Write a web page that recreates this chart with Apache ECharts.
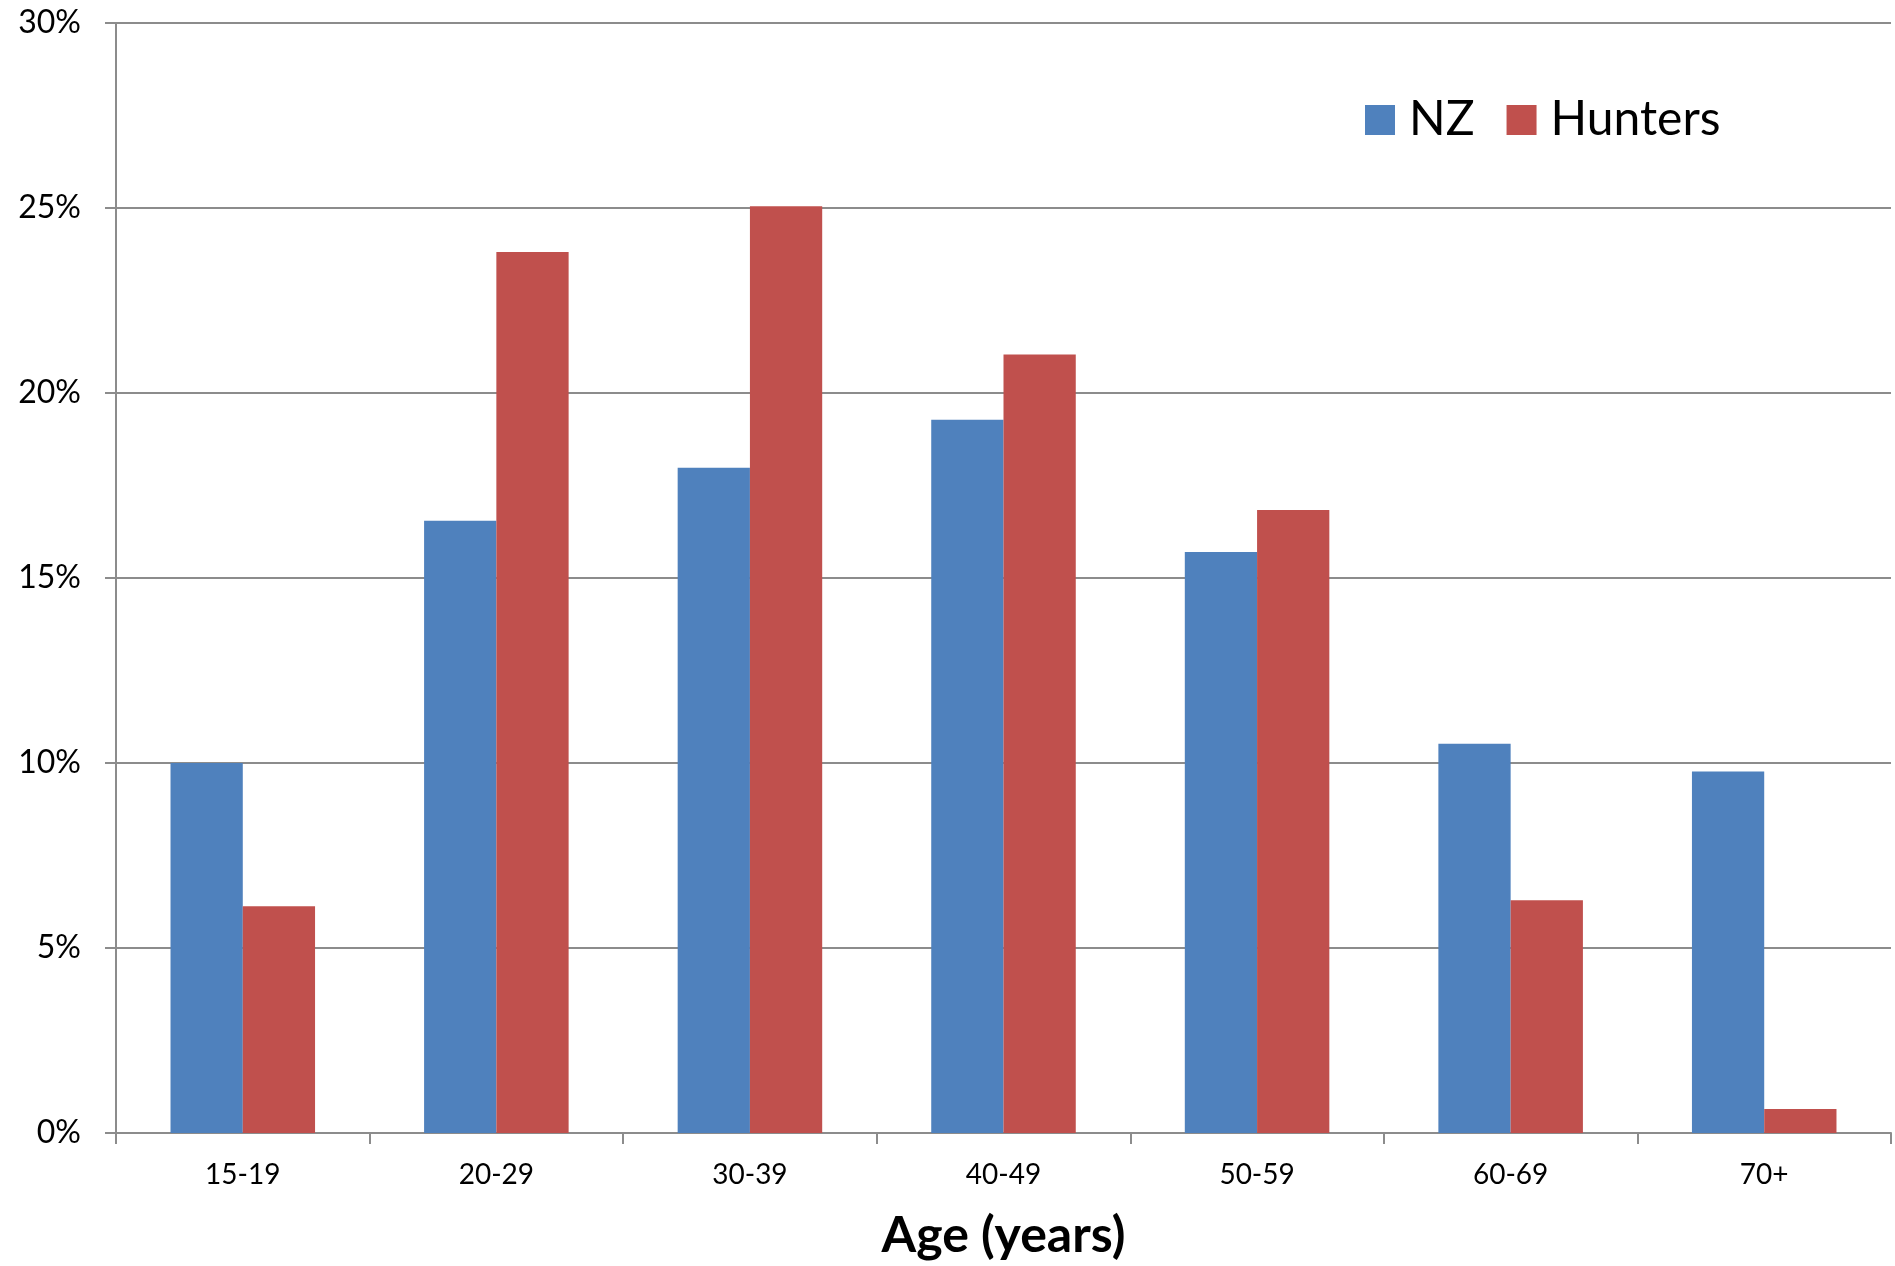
<!DOCTYPE html>
<html>
<head>
<meta charset="utf-8">
<script src="https://cdn.jsdelivr.net/npm/echarts@6/dist/echarts.min.js"></script>
<style>
  html, body { margin: 0; padding: 0; background: #fff; }
  #chart { width: 1895px; height: 1266px; }
</style>
</head>
<body>
<div id="chart"></div>
<script>
const ageGroups = ['15-19', '20-29', '30-39', '40-49', '50-59', '60-69', '70+'];
const nzShare = [10.0, 16.55, 17.98, 19.28, 15.7, 10.52, 9.77];
const hunterShare = [6.13, 23.81, 25.05, 21.04, 16.84, 6.29, 0.65];
const yTicks = { min: 0, max: 30, interval: 5 };

const chart = echarts.init(document.getElementById('chart'));
const gray = '#8c8c8c';

chart.setOption({
  animation: false,
  textStyle: { fontFamily: 'Lato' },
  grid: { left: 116, right: 4, top: 23, bottom: 131 },
  legend: {
    left: 1360,
    top: 91,
    icon: 'rect',
    itemWidth: 30,
    itemHeight: 30,
    itemGap: 32,
    textStyle: { fontSize: 48, color: '#000', fontFamily: 'Lato', padding: [0, 0, 0, 9] },
    data: ['NZ', 'Hunters']
  },
  xAxis: {
    type: 'category',
    data: ageGroups,
    name: 'Age (years)',
    nameLocation: 'middle',
    nameGap: 78,
    nameTextStyle: { fontSize: 50, fontWeight: 'bold', color: '#000', fontFamily: 'Lato' },
    axisLine: { lineStyle: { color: gray, width: 2 } },
    axisTick: { show: true, length: 11, lineStyle: { color: gray, width: 2 } },
    axisLabel: { fontSize: 28, color: '#000', margin: 28 }
  },
  yAxis: {
    type: 'value',
    min: yTicks.min,
    max: yTicks.max,
    interval: yTicks.interval,
    axisLine: { show: true, lineStyle: { color: gray, width: 2 } },
    axisTick: { show: true, length: 11, lineStyle: { color: gray, width: 2 } },
    axisLabel: { fontSize: 32, color: '#000', margin: 35, formatter: '{value}%' },
    splitLine: { lineStyle: { color: gray, width: 2 } }
  },
  series: [
    {
      name: 'NZ',
      type: 'bar',
      data: nzShare,
      barGap: '0%',
      barCategoryGap: '43%',
      itemStyle: { color: '#4F81BD' }
    },
    {
      name: 'Hunters',
      type: 'bar',
      data: hunterShare,
      itemStyle: { color: '#C0504D' }
    }
  ]
});
</script>
</body>
</html>
